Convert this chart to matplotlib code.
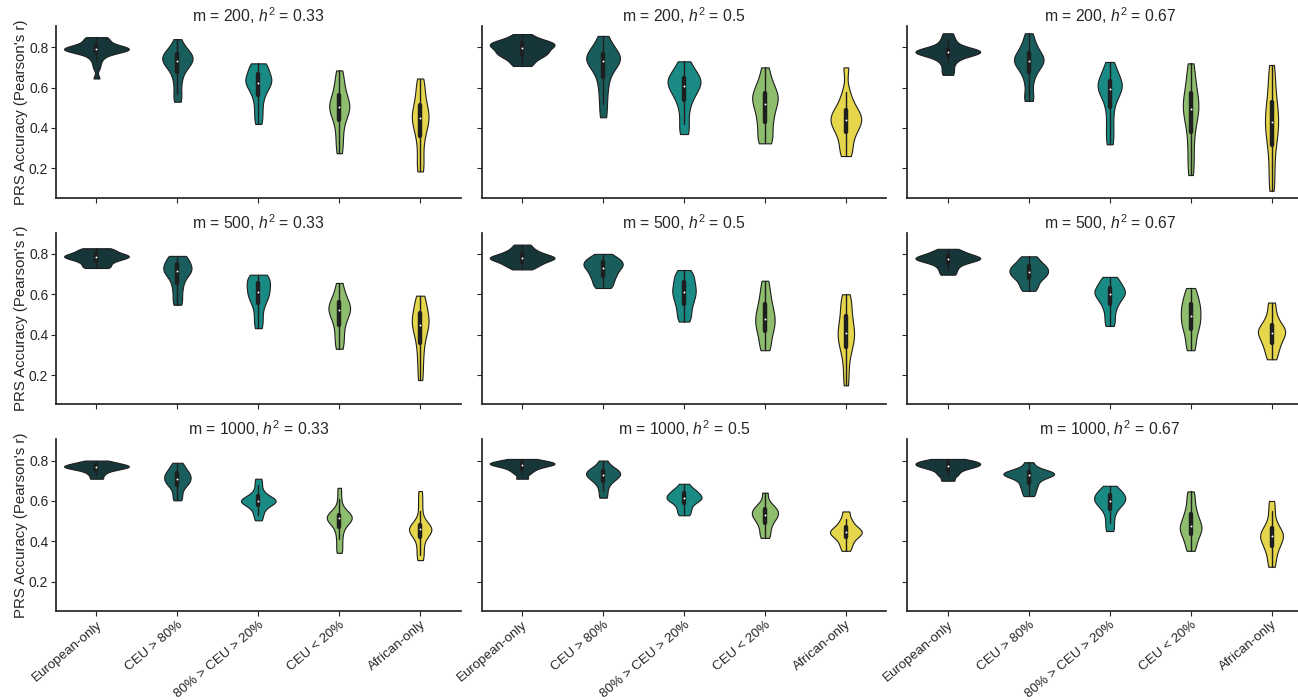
import numpy as np
import pandas as pd
import matplotlib
matplotlib.use("Agg")
import matplotlib.pyplot as plt
import seaborn as sns

# categories and panel settings
groups = ["European-only", "CEU > 80%", "80% > CEU > 20%", "CEU < 20%", "African-only"]
colors = ["#17363a", "#1a5d5d", "#1a8a85", "#8ebd6e", "#e5d64b"]
m_values = [200, 500, 1000]
h2_values = ["0.33", "0.5", "0.67"]

# PRS accuracy samples (row = m, col = h2), one list per group
m200_h033 = [
    [0.645, 0.70, 0.73, 0.75, 0.765, 0.775, 0.78, 0.785, 0.785, 0.79, 0.79, 0.79, 0.795, 0.795, 0.80, 0.80, 0.81, 0.82, 0.83, 0.84, 0.85, 0.85],
    [0.53, 0.57, 0.62, 0.66, 0.69, 0.71, 0.72, 0.73, 0.74, 0.75, 0.76, 0.77, 0.78, 0.80, 0.84],
    [0.42, 0.46, 0.50, 0.54, 0.57, 0.59, 0.61, 0.62, 0.63, 0.64, 0.65, 0.66, 0.68, 0.70, 0.72, 0.72],
    [0.275, 0.33, 0.38, 0.43, 0.46, 0.48, 0.50, 0.51, 0.52, 0.54, 0.57, 0.60, 0.64, 0.685],
    [0.185, 0.22, 0.28, 0.34, 0.38, 0.41, 0.43, 0.45, 0.46, 0.48, 0.50, 0.53, 0.57, 0.61, 0.645],
]
m200_h05 = [
    [0.707, 0.73, 0.75, 0.76, 0.77, 0.78, 0.79, 0.80, 0.81, 0.815, 0.82, 0.83, 0.84, 0.865],
    [0.453, 0.52, 0.58, 0.63, 0.67, 0.70, 0.72, 0.73, 0.74, 0.75, 0.76, 0.77, 0.79, 0.82, 0.856],
    [0.37, 0.42, 0.48, 0.53, 0.56, 0.58, 0.60, 0.62, 0.63, 0.64, 0.65, 0.67, 0.70, 0.73],
    [0.324, 0.34, 0.38, 0.42, 0.45, 0.48, 0.51, 0.53, 0.55, 0.56, 0.58, 0.61, 0.64, 0.70],
    [0.261, 0.29, 0.33, 0.37, 0.39, 0.41, 0.43, 0.44, 0.45, 0.46, 0.48, 0.50, 0.53, 0.58, 0.70],
]
m200_h067 = [
    [0.663, 0.69, 0.72, 0.74, 0.755, 0.765, 0.77, 0.775, 0.775, 0.78, 0.78, 0.785, 0.79, 0.80, 0.82, 0.84, 0.869],
    [0.534, 0.56, 0.62, 0.66, 0.69, 0.71, 0.72, 0.73, 0.74, 0.75, 0.76, 0.78, 0.80, 0.83, 0.869],
    [0.319, 0.37, 0.43, 0.49, 0.54, 0.57, 0.59, 0.60, 0.61, 0.62, 0.64, 0.66, 0.69, 0.727],
    [0.167, 0.23, 0.30, 0.37, 0.42, 0.46, 0.49, 0.50, 0.52, 0.55, 0.58, 0.62, 0.67, 0.72],
    [0.089, 0.15, 0.22, 0.29, 0.34, 0.37, 0.40, 0.43, 0.45, 0.48, 0.51, 0.55, 0.60, 0.66, 0.712],
]
m500_h033 = [
    [0.73, 0.74, 0.755, 0.765, 0.775, 0.78, 0.785, 0.79, 0.795, 0.80, 0.81, 0.82, 0.828],
    [0.548, 0.58, 0.62, 0.65, 0.68, 0.70, 0.71, 0.72, 0.73, 0.74, 0.75, 0.77, 0.79, 0.79],
    [0.432, 0.47, 0.51, 0.55, 0.57, 0.59, 0.60, 0.62, 0.63, 0.65, 0.66, 0.68, 0.69, 0.697],
    [0.33, 0.37, 0.41, 0.45, 0.48, 0.50, 0.52, 0.53, 0.54, 0.56, 0.58, 0.61, 0.656],
    [0.175, 0.24, 0.30, 0.35, 0.39, 0.42, 0.44, 0.46, 0.47, 0.49, 0.51, 0.54, 0.57, 0.593],
]
m500_h05 = [
    [0.723, 0.74, 0.75, 0.76, 0.77, 0.775, 0.78, 0.785, 0.79, 0.80, 0.81, 0.825, 0.846],
    [0.631, 0.65, 0.67, 0.69, 0.70, 0.72, 0.73, 0.74, 0.75, 0.76, 0.77, 0.78, 0.80],
    [0.465, 0.49, 0.52, 0.55, 0.57, 0.59, 0.61, 0.62, 0.64, 0.66, 0.68, 0.70, 0.72],
    [0.323, 0.35, 0.39, 0.42, 0.44, 0.46, 0.48, 0.50, 0.52, 0.55, 0.58, 0.62, 0.667],
    [0.149, 0.22, 0.29, 0.33, 0.36, 0.38, 0.40, 0.42, 0.44, 0.47, 0.50, 0.54, 0.57, 0.60],
]
m500_h067 = [
    [0.697, 0.72, 0.74, 0.755, 0.765, 0.77, 0.775, 0.78, 0.785, 0.79, 0.80, 0.81, 0.825],
    [0.617, 0.64, 0.66, 0.68, 0.69, 0.70, 0.71, 0.72, 0.73, 0.74, 0.75, 0.77, 0.788],
    [0.443, 0.48, 0.52, 0.55, 0.57, 0.59, 0.60, 0.61, 0.62, 0.63, 0.65, 0.67, 0.686],
    [0.323, 0.36, 0.40, 0.43, 0.45, 0.47, 0.49, 0.51, 0.53, 0.55, 0.57, 0.60, 0.631],
    [0.278, 0.31, 0.34, 0.36, 0.38, 0.40, 0.41, 0.42, 0.43, 0.45, 0.47, 0.51, 0.559],
]
m1000_h033 = [
    [0.71, 0.73, 0.745, 0.755, 0.76, 0.765, 0.77, 0.77, 0.775, 0.78, 0.785, 0.79, 0.80],
    [0.603, 0.63, 0.66, 0.68, 0.69, 0.70, 0.71, 0.72, 0.73, 0.74, 0.75, 0.77, 0.789],
    [0.504, 0.53, 0.55, 0.57, 0.58, 0.59, 0.595, 0.60, 0.60, 0.605, 0.61, 0.62, 0.63, 0.65, 0.68, 0.71],
    [0.343, 0.37, 0.41, 0.44, 0.47, 0.49, 0.50, 0.51, 0.515, 0.52, 0.52, 0.525, 0.53, 0.54, 0.56, 0.61, 0.665],
    [0.307, 0.33, 0.36, 0.39, 0.42, 0.44, 0.45, 0.455, 0.46, 0.46, 0.465, 0.47, 0.48, 0.50, 0.55, 0.60, 0.649],
]
m1000_h05 = [
    [0.71, 0.735, 0.75, 0.76, 0.77, 0.775, 0.78, 0.783, 0.786, 0.79, 0.795, 0.80, 0.808],
    [0.616, 0.65, 0.68, 0.70, 0.71, 0.72, 0.73, 0.735, 0.74, 0.75, 0.76, 0.77, 0.80],
    [0.529, 0.55, 0.57, 0.59, 0.60, 0.61, 0.615, 0.62, 0.63, 0.64, 0.65, 0.66, 0.685],
    [0.417, 0.44, 0.47, 0.49, 0.51, 0.52, 0.53, 0.54, 0.55, 0.56, 0.57, 0.59, 0.641],
    [0.353, 0.38, 0.40, 0.42, 0.43, 0.44, 0.445, 0.45, 0.46, 0.47, 0.49, 0.51, 0.548],
]
m1000_h067 = [
    [0.70, 0.725, 0.74, 0.755, 0.765, 0.77, 0.775, 0.78, 0.785, 0.79, 0.795, 0.80, 0.808],
    [0.624, 0.645, 0.665, 0.68, 0.695, 0.71, 0.72, 0.725, 0.73, 0.735, 0.735, 0.74, 0.745, 0.75, 0.765, 0.792],
    [0.451, 0.49, 0.53, 0.56, 0.58, 0.59, 0.60, 0.61, 0.62, 0.63, 0.64, 0.655, 0.675],
    [0.353, 0.38, 0.41, 0.43, 0.45, 0.46, 0.47, 0.48, 0.50, 0.52, 0.54, 0.57, 0.61, 0.647],
    [0.274, 0.31, 0.35, 0.37, 0.39, 0.41, 0.42, 0.43, 0.44, 0.45, 0.47, 0.50, 0.55, 0.60],
]

panels = [
    [m200_h033, m200_h05, m200_h067],
    [m500_h033, m500_h05, m500_h067],
    [m1000_h033, m1000_h05, m1000_h067],
]

sns.set_theme(style="ticks")
plt.rcParams["font.family"] = ["Liberation Sans", "DejaVu Sans"]
plt.rcParams["mathtext.fontset"] = "custom"
plt.rcParams["mathtext.rm"] = "Liberation Sans"
plt.rcParams["mathtext.it"] = "Liberation Sans:italic"

W, H = 1298, 700
fig = plt.figure(figsize=(W / 100, H / 100), dpi=100)
# third column runs past the right edge, as in the original
axes = fig.subplots(3, 3, sharex=True, sharey=True,
                    gridspec_kw=dict(left=56 / W, right=1312 / W, top=1 - 26 / H,
                                     bottom=1 - 611 / H, wspace=0.052, hspace=0.204))

for i, m in enumerate(m_values):
    for j, h2 in enumerate(h2_values):
        ax = axes[i, j]
        rows = []
        for g, vals in zip(groups, panels[i][j]):
            for v in vals:
                rows.append((g, v))
        df = pd.DataFrame(rows, columns=["group", "r"])
        sns.violinplot(data=df, x="group", y="r", hue="group", order=groups,
                       hue_order=groups, palette=colors, legend=False, cut=0,
                       inner="box", linewidth=0.8, linecolor="#1e1e1e",
                       saturation=1, bw_adjust=0.65, common_norm=True,
                       inner_kws=dict(box_width=3.2, whis_width=1.0, marker=".",
                                      markersize=1.5),
                       ax=ax)
        ax.set_title(f"m = {m}, $h^2$ = {h2}", fontsize=11.3, pad=3)
        ax.set_xlabel("")
        ax.set_ylabel("PRS Accuracy (Pearson's r)" if j == 0 else "", fontsize=10.8,
                      labelpad=1)
        ax.tick_params(labelsize=10, length=3.5, pad=2, width=0.8)
        sns.despine(ax=ax)

axes[0, 0].set_ylim(0.055, 0.905)
axes[0, 0].set_yticks([0.2, 0.4, 0.6, 0.8])
for ax in axes[2]:
    ax.set_xticks(range(len(groups)))
    ax.set_xticklabels(groups, rotation=40, ha="right", rotation_mode="anchor",
                       fontsize=9.6)

fig.savefig("out.png", dpi=100)
